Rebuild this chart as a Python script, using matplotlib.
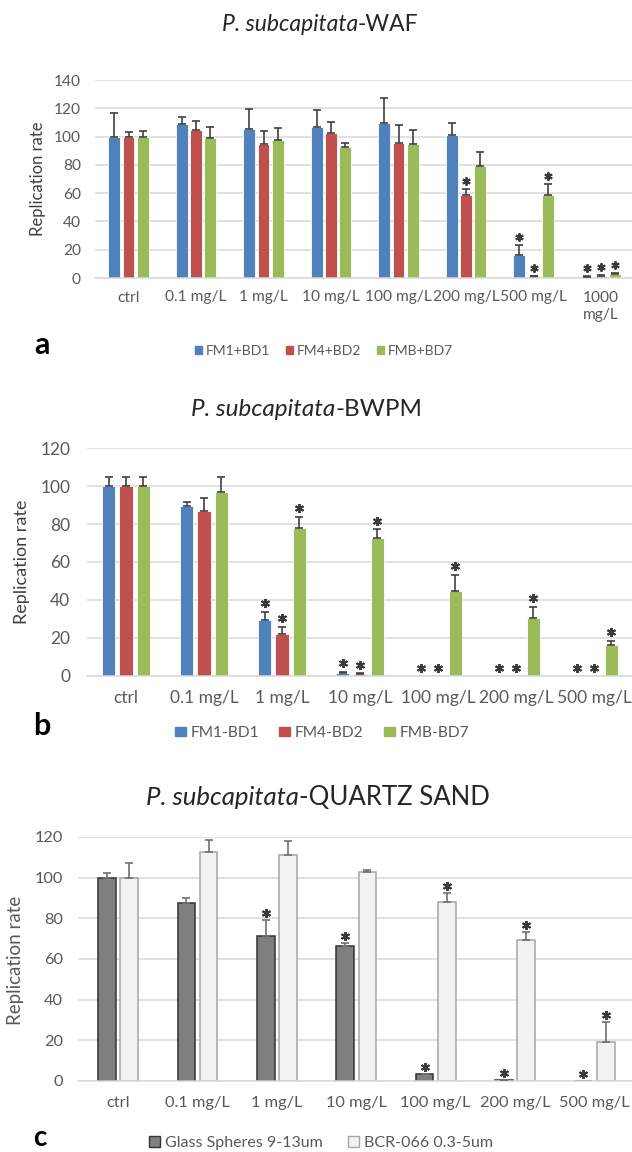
import matplotlib
matplotlib.use("Agg")
import matplotlib.pyplot as plt
from matplotlib.patches import Patch
from matplotlib.transforms import ScaledTranslation
import numpy as np

plt.rcParams['font.family'] = ['Lato', 'DejaVu Sans']

# ---------------- data ----------------
cats_a = ['ctrl', '0.1 mg/L', '1 mg/L', '10 mg/L', '100 mg/L', '200 mg/L', '500 mg/L', '1000\nmg/L']
series_a = ['FM1+BD1', 'FM4+BD2', 'FMB+BD7']
fm1_a = [100, 109, 105.5, 106.5, 109.5, 101, 16.5, 1.0]
fm1_a_sd = [16.5, 5, 14, 12, 17.5, 8.5, 6.5, 0.3]
fm4_a = [100, 104.8, 94.5, 102.5, 95.5, 58.5, 1.2, 1.5]
fm4_a_sd = [3.5, 6, 9.5, 8, 13, 4.5, 0.5, 0.5]
fmb_a = [100, 99, 97.3, 92.5, 95, 79, 59, 3]
fmb_a_sd = [4, 7.5, 8.7, 2.8, 9.5, 10, 7.5, 0.8]
fm1_a_sig = [0, 0, 0, 0, 0, 0, 1, 1]
fm4_a_sig = [0, 0, 0, 0, 0, 1, 1, 1]
fmb_a_sig = [0, 0, 0, 0, 0, 0, 1, 1]

cats_b = ['ctrl', '0.1 mg/L', '1 mg/L', '10 mg/L', '100 mg/L', '200 mg/L', '500 mg/L']
series_b = ['FM1-BD1', 'FM4-BD2', 'FMB-BD7']
fm1_b = [100, 89.5, 29.3, 1.6, 0, 0, 0]
fm1_b_sd = [4.7, 2.1, 4.6, 0.7, 0, 0, 0]
fm4_b = [100, 86.7, 21.9, 1.0, 0, 0, 0]
fm4_b_sd = [4.7, 7, 3.9, 0.4, 0, 0, 0]
fmb_b = [100, 96.8, 77.7, 72.6, 44.7, 30.7, 16.5]
fmb_b_sd = [4.7, 8.2, 6, 4.6, 8.6, 5.8, 2.1]
fm1_b_sig = [0, 0, 1, 1, 1, 1, 1]
fm4_b_sig = [0, 0, 1, 1, 1, 1, 1]
fmb_b_sig = [0, 0, 1, 1, 1, 1, 1]

cats_c = ['ctrl', '0.1 mg/L', '1 mg/L', '10 mg/L', '100 mg/L', '200 mg/L', '500 mg/L']
series_c = ['Glass Spheres 9-13um', 'BCR-066 0.3-5um']
glass_c = [100, 87.4, 71.5, 66.5, 3.3, 0.5, 0]
glass_c_sd = [2.5, 2.8, 7.9, 1.4, 0.3, 0.2, 0]
bcr_c = [100, 112.8, 111, 103, 87.8, 69.3, 19.3]
bcr_c_sd = [7, 5.7, 7, 1, 4.7, 4.2, 9.7]
glass_c_sig = [0, 0, 1, 1, 1, 1, 1]
bcr_c_sig = [0, 0, 0, 0, 1, 1, 1]

W, H = 632, 1152
fig = plt.figure(figsize=(W / 100, H / 100), dpi=100)
renderer = fig.canvas.get_renderer()

GRID = '#D9D9D9'
TXT = '#595959'
ERR = '#404040'


def fx(px):
    return px / W


def fy(py):
    return 1 - py / H


def panel(rect, cats, vals, sds, sigs, colors, edges, width, step, ylim, ystep,
          tick_fs, xpad, ypad, err_col, star_ms, star_px):
    ax = fig.add_axes(rect)
    x = np.arange(len(cats))
    n = len(vals)
    star_tr = ax.transData + ScaledTranslation(0, star_px / 100, fig.dpi_scale_trans)
    for i in range(n):
        xi = x + (i - (n - 1) / 2) * step
        v = np.array(vals[i], float)
        s = np.array(sds[i], float)
        ax.bar(xi, v, width, color=colors[i], edgecolor=edges[i][0],
               linewidth=edges[i][1], zorder=2)
        m = v > 0
        ax.errorbar(xi[m], v[m], yerr=[np.zeros(m.sum()), s[m]], fmt='none',
                    ecolor=err_col, elinewidth=1.2, capsize=3, capthick=1.2, zorder=3)
        sg = np.array(sigs[i], bool)
        ax.plot(xi[sg], (v + s)[sg], linestyle='none', marker=(6, 2, 0),
                markersize=star_ms, markeredgewidth=1.4, color='#3A3A3A',
                transform=star_tr, zorder=4, clip_on=False)
    ax.set_xlim(-0.5, len(cats) - 0.5)
    ax.set_ylim(*ylim)
    ax.set_yticks(np.arange(ylim[0], ylim[1] + 1, ystep))
    ax.set_xticks(x)
    ax.set_xticklabels(cats, linespacing=1.3)
    ax.grid(axis='y', color=GRID, linewidth=1.1, zorder=0)
    ax.set_axisbelow(True)
    for sp in ['top', 'right', 'left']:
        ax.spines[sp].set_visible(False)
    ax.spines['bottom'].set_color(GRID)
    ax.spines['bottom'].set_linewidth(1.1)
    ax.tick_params(axis='both', length=0, labelsize=tick_fs, colors=TXT)
    ax.tick_params(axis='x', pad=xpad)
    ax.tick_params(axis='y', pad=ypad)
    return ax


def set_ylab(ax, fs, xc, yc, color):
    ax.set_ylabel('Replication rate', fontsize=fs, color=color)
    ax.yaxis.label.set_verticalalignment('center')
    ax.yaxis.set_label_coords(fx(xc), fy(yc), transform=fig.transFigure)


def add_title(txt_it, txt_rm, ypx, fs, xc):
    t1 = fig.text(0, fy(ypx), txt_it, style='italic', fontsize=fs, ha='left',
                  va='baseline', color='#262626')
    t2 = fig.text(0, fy(ypx), txt_rm, fontsize=fs, ha='left', va='baseline',
                  color='#262626')
    w1 = t1.get_window_extent(renderer).width
    w2 = t2.get_window_extent(renderer).width
    x0 = xc - (w1 + w2) / 2
    t1.set_x(fx(x0))
    t2.set_x(fx(x0 + w1))


blue, red, green = '#4F81BD', '#C0504D', '#9BBB59'

# ---------------- panel a ----------------
axa = panel([fx(94.75), fy(278), fx(540), (278 - 80) / H], cats_a,
            [fm1_a, fm4_a, fmb_a], [fm1_a_sd, fm4_a_sd, fmb_a_sd],
            [fm1_a_sig, fm4_a_sig, fmb_a_sig], [blue, red, green],
            [('white', 0.6)] * 3, 0.175, 0.213, (0, 140), 20, 11.2, 9, 10, ERR, 6, 8)
set_ylab(axa, 12, 38, 179, '#404040')
add_title('P. subcapitata', '-WAF', 31, 16.5, 320)
fig.text(fx(42), fy(345), 'a', fontsize=22, fontweight='bold', ha='center', va='center')
fig.legend([Patch(color=c) for c in [blue, red, green]], series_a, loc='center',
           bbox_to_anchor=(fx(324), fy(351)), ncol=3, frameon=False, fontsize=10,
           handlelength=0.5, handleheight=0.5, handletextpad=0.3, columnspacing=1.1,
           labelcolor=TXT)

# ---------------- panel b ----------------
axb = panel([fx(87), fy(676), fx(546), (676 - 448) / H], cats_b,
            [fm1_b, fm4_b, fmb_b], [fm1_b_sd, fm4_b_sd, fmb_b_sd],
            [fm1_b_sig, fm4_b_sig, fmb_b_sig], [blue, red, green],
            [('white', 0.6)] * 3, 0.17, 0.222, (0, 120), 20, 12.5, 10, 12, ERR, 6.5, 8.5)
set_ylab(axb, 13, 22, 562, '#404040')
add_title('P. subcapitata', '-BWPM', 416, 17.5, 307)
fig.text(fx(42), fy(726), 'b', fontsize=22, fontweight='bold', ha='center', va='center')
fig.legend([Patch(color=c) for c in [blue, red, green]], series_b, loc='center',
           bbox_to_anchor=(fx(322), fy(733)), ncol=3, frameon=False, fontsize=11.2,
           handlelength=0.7, handleheight=0.6, handletextpad=0.3, columnspacing=1.3,
           labelcolor=TXT)

# ---------------- panel c ----------------
dark, light = '#7F7F7F', '#F2F2F2'
axc = panel([fx(78.3), fy(1081), fx(556), (1081 - 837) / H], cats_c,
            [glass_c, bcr_c], [glass_c_sd, bcr_c_sd],
            [glass_c_sig, bcr_c_sig], [dark, light],
            [('#333333', 1.1), ('#A6A6A6', 1.1)], 0.222, 0.28, (0, 120), 20, 11.8, 11, 11,
            '#707070', 6.5, 7)
set_ylab(axc, 13.5, 15, 960, TXT)
add_title('P. subcapitata', '-QUARTZ SAND', 805, 18.5, 318)
fig.text(fx(40), fy(1151), 'c', fontsize=20, fontweight='bold', ha='center', va='bottom')
fig.legend([Patch(facecolor=dark, edgecolor='#333333', linewidth=1),
            Patch(facecolor=light, edgecolor='#A6A6A6', linewidth=1)], series_c,
           loc='center', bbox_to_anchor=(fx(321), fy(1143)), ncol=2, frameon=False,
           fontsize=11.5, handlelength=0.7, handleheight=0.7, handletextpad=0.3,
           columnspacing=1.6, labelcolor=TXT)

fig.savefig('out.png', dpi=100)
